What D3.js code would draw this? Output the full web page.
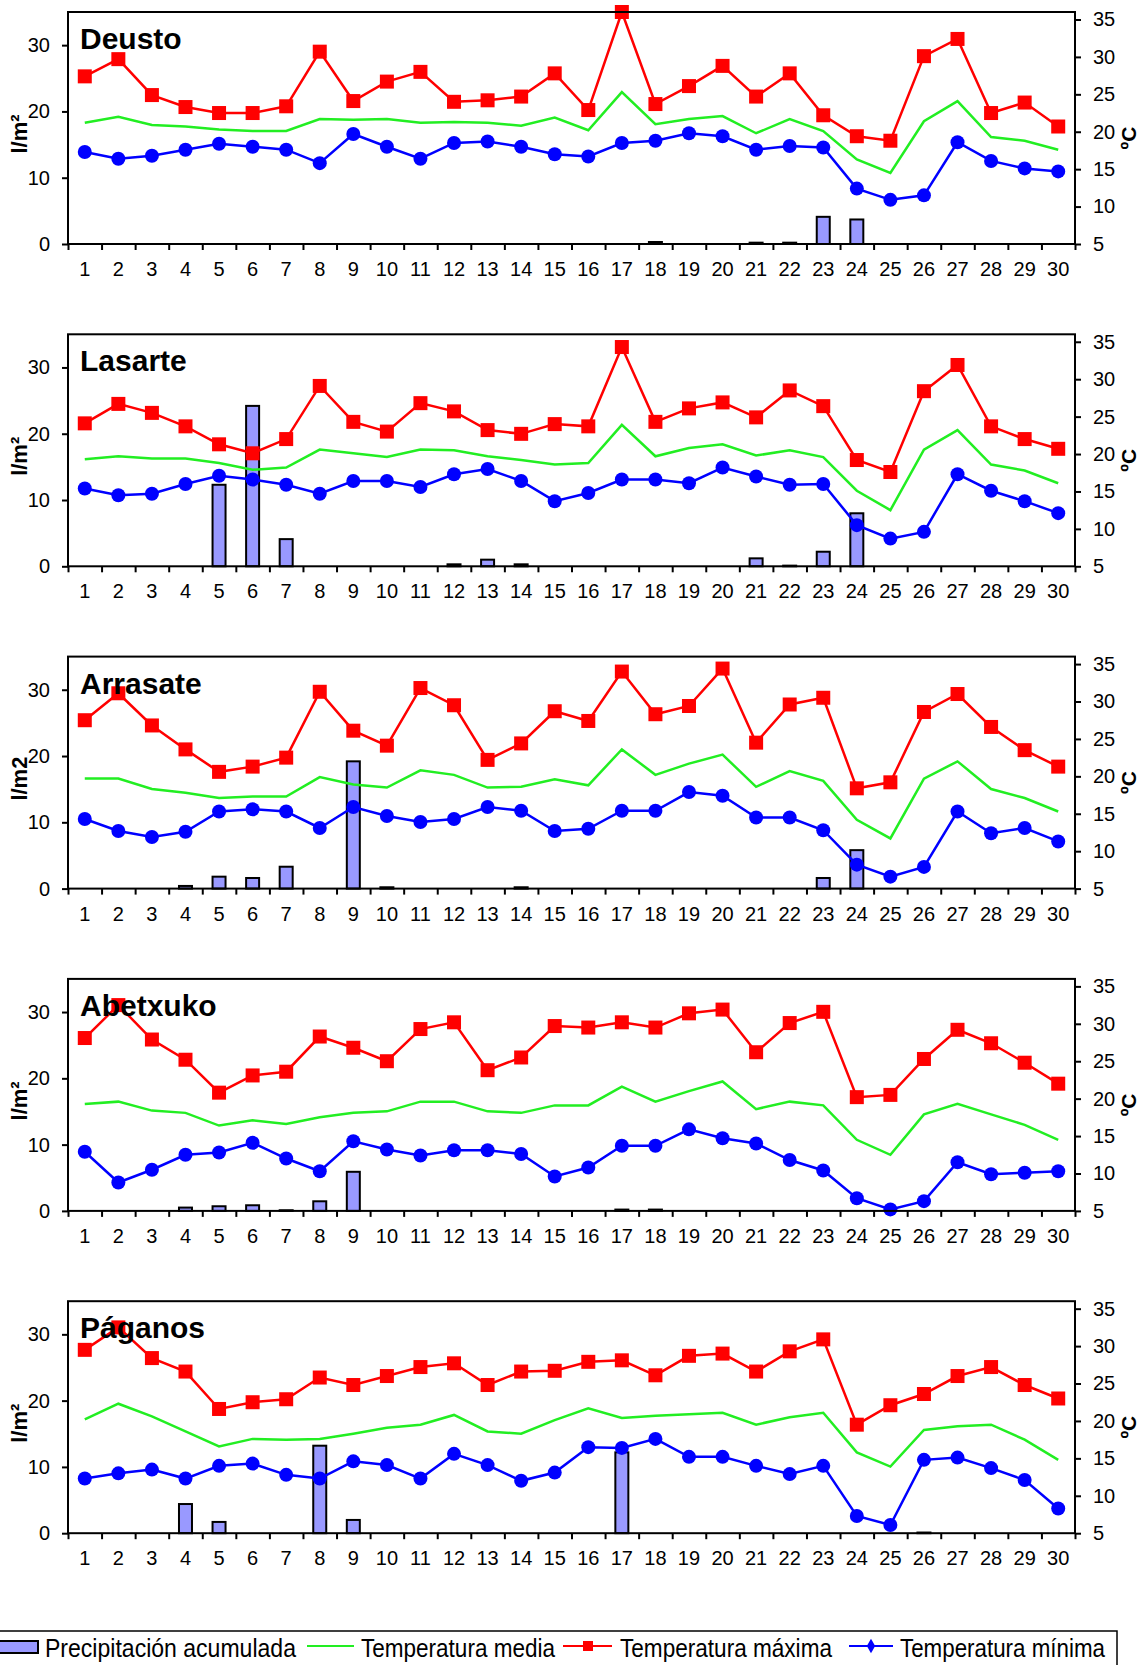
<!DOCTYPE html>
<html><head><meta charset="utf-8">
<script src="https://cdn.jsdelivr.net/npm/d3@7"></script>
<style>body{margin:0;background:#fff}svg{display:block}</style>
</head><body><svg id="c" width="1144" height="1665"></svg>
<script>
const days = ["1","2","3","4","5","6","7","8","9","10","11","12","13","14","15","16","17","18","19","20","21","22","23","24","25","26","27","28","29","30"];
const precipTicks = [0,10,20,30];
const tempTicks = [5,10,15,20,25,30,35];
const stationNames = ["Deusto","Lasarte","Arrasate","Abetxuko","Páganos"];
const precipUnits = ["l/m²","l/m²","l/m2","l/m²","l/m²"];
const legendLabels = ["Precipitación acumulada","Temperatura media","Temperatura máxima","Temperatura mínima"];

const deustoPrecip = [0,0,0,0,0,0,0,0,0,0,0,0,0,0,0,0,0,0.3,0,0,0.2,0.2,4.1,3.7,0,0,0,0,0,0];
const deustoMedia  = [21.2,22.0,20.9,20.7,20.3,20.1,20.1,21.7,21.6,21.7,21.2,21.3,21.2,20.8,21.9,20.2,25.3,21.0,21.7,22.1,19.8,21.7,20.1,16.3,14.5,21.4,24.1,19.3,18.8,17.6];
const deustoMax    = [27.4,29.7,24.9,23.3,22.5,22.5,23.4,30.7,24.1,26.7,28.0,24.0,24.2,24.7,27.8,22.9,36.0,23.7,26.1,28.8,24.7,27.8,22.2,19.4,18.8,30.1,32.4,22.5,23.9,20.7];
const deustoMin    = [17.3,16.4,16.8,17.6,18.4,18.0,17.6,15.8,19.7,18.0,16.4,18.5,18.7,18.0,17.0,16.7,18.5,18.8,19.8,19.4,17.6,18.1,17.9,12.4,10.9,11.5,18.6,16.1,15.1,14.7];

const lasartePrecip = [0,0,0,0,12.3,24.2,4.1,0,0,0,0,0.3,1.0,0.3,0,0,0,0,0,0,1.2,0.1,2.2,8.0,0,0,0,0,0,0];
const lasarteMedia  = [19.3,19.7,19.4,19.4,18.8,17.9,18.2,20.6,20.1,19.6,20.6,20.5,19.7,19.2,18.6,18.8,23.9,19.7,20.8,21.3,19.8,20.5,19.6,15.1,12.5,20.6,23.2,18.6,17.8,16.1];
const lasarteMax    = [24.1,26.7,25.5,23.7,21.3,20.1,22.0,29.1,24.3,23.0,26.8,25.7,23.2,22.7,24.0,23.7,34.3,24.3,26.1,26.9,24.9,28.5,26.4,19.2,17.6,28.4,31.9,23.7,22.0,20.7];
const lasarteMin    = [15.4,14.5,14.7,16.0,17.1,16.6,15.9,14.7,16.4,16.4,15.6,17.3,18.0,16.4,13.7,14.8,16.6,16.6,16.1,18.2,17.0,15.9,16.0,10.5,8.7,9.6,17.3,15.1,13.7,12.1];

const arrasatePrecip = [0,0,0,0.4,1.8,1.6,3.3,0,19.2,0.2,0,0,0,0.2,0,0,0,0,0,0,0,0,1.6,5.8,0,0,0,0,0,0];
const arrasateMedia  = [19.7,19.7,18.3,17.8,17.1,17.3,17.3,19.9,18.9,18.5,20.8,20.2,18.5,18.6,19.6,18.8,23.6,20.2,21.7,22.9,18.6,20.7,19.4,14.2,11.7,19.7,22.0,18.3,17.1,15.3];
const arrasateMax    = [27.5,31.1,26.8,23.6,20.6,21.3,22.5,31.3,26.1,24.1,31.8,29.5,22.2,24.4,28.7,27.4,34.0,28.3,29.4,34.4,24.5,29.6,30.5,18.4,19.2,28.6,31.0,26.6,23.5,21.3];
const arrasateMin    = [14.3,12.7,11.9,12.6,15.3,15.6,15.3,13.1,15.9,14.7,13.9,14.3,15.9,15.4,12.7,13.0,15.4,15.4,17.9,17.4,14.5,14.5,12.8,8.2,6.6,7.9,15.3,12.4,13.1,11.3];

const abetxukoPrecip = [0,0,0,0.5,0.7,0.85,0.1,1.45,5.9,0,0,0,0,0,0,0,0.2,0.2,0,0,0,0,0,0,0,0,0,0,0,0];
const abetxukoMedia  = [19.3,19.6,18.4,18.1,16.4,17.1,16.6,17.5,18.1,18.3,19.6,19.6,18.3,18.1,19.1,19.1,21.6,19.6,21.0,22.3,18.6,19.6,19.1,14.5,12.5,17.9,19.3,17.9,16.5,14.5];
const abetxukoMax    = [28.1,32.5,27.9,25.2,20.8,23.1,23.6,28.3,26.8,25.0,29.3,30.2,23.8,25.5,29.7,29.5,30.2,29.5,31.4,31.9,26.2,30.1,31.6,20.2,20.5,25.3,29.2,27.4,24.8,22.0];
const abetxukoMin    = [12.9,8.8,10.5,12.5,12.8,14.1,12.0,10.3,14.3,13.2,12.4,13.1,13.1,12.6,9.6,10.8,13.7,13.7,15.9,14.7,14.0,11.8,10.4,6.7,5.2,6.3,11.5,9.9,10.1,10.3];

const paganosPrecip = [0,0,0,4.4,1.7,0,0,13.2,2.0,0,0,0,0,0,0,0,12.2,0,0,0,0,0,0,0,0,0.1,0,0,0,0];
const paganosMedia  = [20.2,22.3,20.6,18.6,16.6,17.6,17.5,17.6,18.3,19.1,19.5,20.8,18.6,18.3,20.1,21.7,20.4,20.7,20.9,21.1,19.5,20.5,21.1,15.8,13.9,18.8,19.3,19.5,17.5,14.8];
const paganosMax    = [29.5,32.5,28.4,26.6,21.6,22.5,22.9,25.8,24.8,26.0,27.2,27.7,24.8,26.6,26.7,27.9,28.1,26.1,28.7,29.0,26.6,29.3,30.9,19.5,22.1,23.6,26.0,27.2,24.8,23.0];
const paganosMin    = [12.3,13.0,13.5,12.3,14.0,14.3,12.8,12.3,14.6,14.1,12.3,15.6,14.1,12.0,13.1,16.5,16.4,17.6,15.2,15.2,14.0,12.9,14.0,7.3,6.1,14.8,15.1,13.7,12.1,8.3];

const stations = [
  {name: stationNames[0], unit: precipUnits[0], precip: deustoPrecip, media: deustoMedia, max: deustoMax, min: deustoMin},
  {name: stationNames[1], unit: precipUnits[1], precip: lasartePrecip, media: lasarteMedia, max: lasarteMax, min: lasarteMin},
  {name: stationNames[2], unit: precipUnits[2], precip: arrasatePrecip, media: arrasateMedia, max: arrasateMax, min: arrasateMin},
  {name: stationNames[3], unit: precipUnits[3], precip: abetxukoPrecip, media: abetxukoMedia, max: abetxukoMax, min: abetxukoMin},
  {name: stationNames[4], unit: precipUnits[4], precip: paganosPrecip, media: paganosMedia, max: paganosMax, min: paganosMin}
];

const svg = d3.select("#c");
const FONT = "'Liberation Sans', Arial, sans-serif";
const NARROW = "'Liberation Sans Narrow', 'Liberation Sans', Arial, sans-serif";
const left = 68, right = 1075, plotH = 232, firstTop = 12, step = 322.3;
const cBar = "#9999FF", cMedia = "#22EE22", cMax = "#FF0000", cMin = "#0000FF";

const x = d3.scaleBand().domain(days).range([left, right]).padding(0);
const xEdge = d3.scaleLinear().domain([0, days.length]).range([left, right]);
const barW = 13;

stations.forEach((s, i) => {
  const top = firstTop + i * step, bottom = top + plotH;
  const yP = d3.scaleLinear().domain([0, 35]).range([bottom, top]);
  const yT = d3.scaleLinear().domain([5, 36]).range([bottom, top]);
  const g = svg.append("g");
  const cx = d => x(d) + x.bandwidth() / 2;

  const barData = s.precip.map((v, j) => ({d: days[j], v})).filter(o => o.v > 0);
  g.selectAll("rect.bar").data(barData).join("rect")
    .attr("x", o => cx(o.d) - barW / 2).attr("width", barW)
    .attr("y", o => yP(o.v)).attr("height", o => yP(0) - yP(o.v))
    .attr("fill", cBar).attr("stroke", "#000").attr("stroke-width", 2);

  const line = yS => d3.line().x((v, j) => cx(days[j])).y(v => yS(v));

  g.append("path").datum(s.media).attr("d", line(yT))
    .attr("fill", "none").attr("stroke", cMedia).attr("stroke-width", 2.5);

  g.append("path").datum(s.max).attr("d", line(yT))
    .attr("fill", "none").attr("stroke", cMax).attr("stroke-width", 2.5);
  g.selectAll("rect.mx").data(s.max).join("rect")
    .attr("x", (v, j) => cx(days[j]) - 7).attr("y", v => yT(v) - 7)
    .attr("width", 14).attr("height", 14).attr("fill", cMax);

  g.append("path").datum(s.min).attr("d", line(yT))
    .attr("fill", "none").attr("stroke", cMin).attr("stroke-width", 2.5);
  g.selectAll("circle.mn").data(s.min).join("circle")
    .attr("cx", (v, j) => cx(days[j])).attr("cy", v => yT(v))
    .attr("r", 7).attr("fill", cMin);

  g.append("rect").attr("x", left).attr("y", top).attr("width", right - left).attr("height", plotH)
    .attr("fill", "none").attr("stroke", "#000").attr("stroke-width", 2);

  const ax1 = g.append("g").attr("transform", `translate(${left},0)`)
    .call(d3.axisLeft(yP).tickValues(precipTicks).tickSize(6).tickSizeOuter(0).tickPadding(12));
  const ax2 = g.append("g").attr("transform", `translate(${right},0)`)
    .call(d3.axisRight(yT).tickValues(tempTicks).tickSize(6).tickSizeOuter(0).tickPadding(12));
  const ax3 = g.append("g").attr("transform", `translate(0,${bottom})`)
    .call(d3.axisBottom(x).tickSize(0).tickPadding(18));
  const ax4 = g.append("g").attr("transform", `translate(0,${bottom})`)
    .call(d3.axisBottom(xEdge).tickValues(d3.range(days.length + 1)).tickFormat("").tickSize(6).tickSizeOuter(0));
  [ax1, ax2, ax3, ax4].forEach(a => {
    a.select(".domain").remove();
    a.selectAll("line").attr("stroke", "#000").attr("stroke-width", 2);
    a.selectAll("text").attr("font-family", FONT).attr("font-size", 20).attr("fill", "#000");
  });

  g.append("text").attr("x", 80).attr("y", top + 37).text(s.name)
    .attr("font-family", FONT).attr("font-weight", "bold").attr("font-size", 30).attr("fill", "#000");

  g.append("text").attr("transform", `translate(27,${top + 122}) rotate(-90)`)
    .attr("text-anchor", "middle").text(s.unit)
    .attr("font-family", FONT).attr("font-weight", "bold").attr("font-size", 22).attr("fill", "#000");

  g.append("text").attr("transform", `translate(1136,${top + 126}) rotate(-90)`)
    .attr("text-anchor", "middle").text("ºC")
    .attr("font-family", FONT).attr("font-weight", "bold").attr("font-size", 21).attr("fill", "#000");
});

const lg = svg.append("g");
lg.append("rect").attr("x", -5).attr("y", 1631).attr("width", 1122).attr("height", 60)
  .attr("fill", "#fff").attr("stroke", "#000").attr("stroke-width", 1.5);
const ly = 1646, lb = 1657;
lg.append("rect").attr("x", -4).attr("y", 1641).attr("width", 42).attr("height", 12)
  .attr("fill", cBar).attr("stroke", "#000").attr("stroke-width", 2);
lg.append("line").attr("x1", 307).attr("x2", 354).attr("y1", ly).attr("y2", ly).attr("stroke", cMedia).attr("stroke-width", 2);
lg.append("line").attr("x1", 563).attr("x2", 612).attr("y1", ly).attr("y2", ly).attr("stroke", cMax).attr("stroke-width", 2);
lg.append("rect").attr("x", 583).attr("y", ly - 5).attr("width", 10).attr("height", 10).attr("fill", cMax);
lg.append("line").attr("x1", 849).attr("x2", 893).attr("y1", ly).attr("y2", ly).attr("stroke", cMin).attr("stroke-width", 2);
lg.append("path").attr("d", d3.symbol(d3.symbolDiamond, 60)()).attr("transform", `translate(871,${ly})`).attr("fill", cMin);
const legPos = [[45, 251], [361, 194], [620, 212], [900, 205]];
legendLabels.forEach((t, k) => {
  lg.append("text").attr("x", legPos[k][0]).attr("y", lb).text(t)
    .attr("textLength", legPos[k][1]).attr("lengthAdjust", "spacingAndGlyphs")
    .attr("font-family", NARROW).attr("font-size", 26).attr("fill", "#000");
});
</script></body></html>
